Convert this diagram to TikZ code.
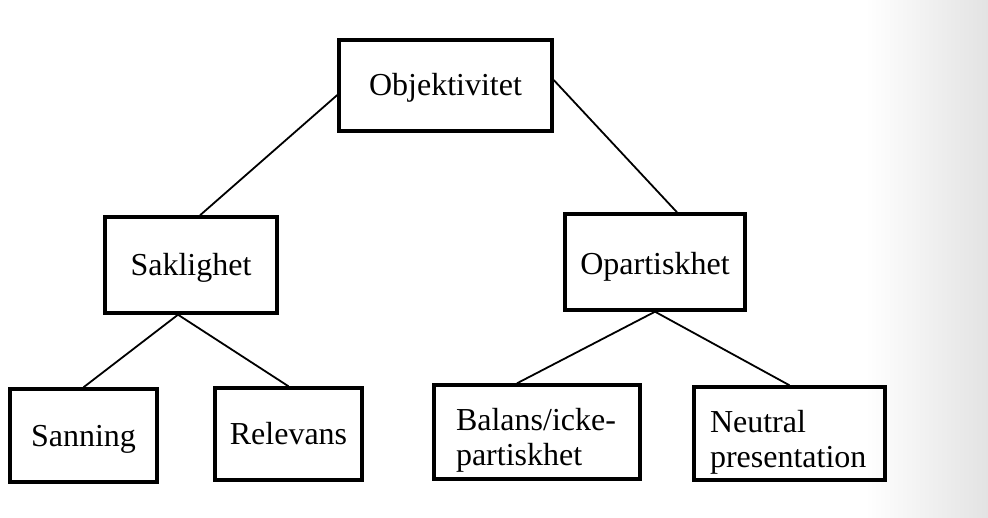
\documentclass[tikz,border=0pt]{standalone}
\usepackage{fontspec}
\setmainfont{Liberation Serif}
\usetikzlibrary{positioning}

\newcommand{\toppad}{\rule{0pt}{19.5pt}}

\begin{document}
\begin{tikzpicture}[x=0.5pt,y=-0.5pt,
    font=\fontsize{16}{17.5}\selectfont,
    box/.style={draw,line width=1.7pt,inner sep=0pt,align=center,
        text height=12.5pt,text depth=2pt},
    twoline/.style={draw,line width=1.7pt,inner ysep=0pt,align=left,inner xsep=#1},
    edge/.style={line width=0.9pt}]

    % page
    \useasboundingbox (0,0) rectangle (988,518);
    \shade [left color=white,right color=black!11] (865,0) rectangle (988,518);

    % Top level
    \node [box,minimum width=106.5pt,minimum height=45.5pt] (obj) at (445.5,85.5) {Objektivitet};

    % Second level
    \node [box,minimum width=86pt,minimum height=48pt] (sak) at (191,265) {Saklighet};
    \node [box,minimum width=90pt,minimum height=48pt,text height=14pt] (opa) at (655,262) {Opartiskhet};

    % Leaves
    \node [box,minimum width=73.5pt,minimum height=46.5pt] (san) at (83.5,435.5) {Sanning};
    \node [box,minimum width=73.5pt,minimum height=46pt] (rel) at (288.5,434) {Relevans};
    \node [twoline=11pt,text width=81pt,minimum height=47pt] (bal) at (537,432) {\toppad Balans/icke-\\partiskhet};
    \node [twoline=8pt,text width=79.5pt,minimum height=46.5pt] (neu) at (789.5,433.5) {\toppad Neutral\\presentation};

    % Connectors
    \draw [edge] ([yshift=-4.75pt]obj.west) -- ([xshift=4.5pt]sak.north);
    \draw [edge] ([yshift=2.75pt]obj.east) -- ([xshift=11pt]opa.north);
    \draw [edge] ([xshift=-6.5pt]sak.south) -- (san.north);
    \draw [edge] ([xshift=-6.5pt]sak.south) -- (rel.north);
    \draw [edge] (opa.south) -- ([xshift=-10pt]bal.north);
    \draw [edge] (opa.south) -- (neu.north);

\end{tikzpicture}
\end{document}
